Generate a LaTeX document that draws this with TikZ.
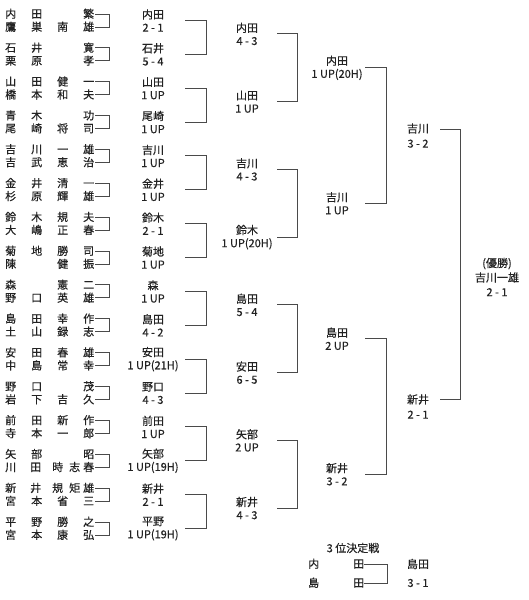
\documentclass[tikz,border=0pt]{standalone}
\usepackage{fontspec}
\setmainfont{Noto Sans CJK JP}[FakeBold=0.35]
\usetikzlibrary{calc}
\definecolor{txt}{HTML}{222222}
\definecolor{lnc}{HTML}{4A4A4A}
\newcommand\nmF[4]{\makebox[90pt][l]{\makebox[26pt][l]{#1}\makebox[26pt][l]{#2}\makebox[26pt][l]{#3}#4}}
\newcommand\nmV[5]{\makebox[90pt][l]{\makebox[25pt][l]{#1}\makebox[22pt][l]{#2}\makebox[17pt][l]{#3}\makebox[14pt][l]{#4}#5}}
\begin{document}
\begin{tikzpicture}[x=1pt,y=-1pt,
  every node/.style={text=txt, font=\fontsize{11}{13}\selectfont, inner sep=0pt},
  nm/.style={anchor=west, text height=9.4pt, text depth=1.6pt},
  lab/.style={align=center},
  ln/.style={draw=lnc, line width=1pt}]
\useasboundingbox[fill=white] (0,0) rectangle (529,600);

% first-round pairs
\foreach \k/\a/\b in {
 0/{\nmF{内}{田}{}{繁}}/{\nmF{鷹}{巣}{南}{雄}},
 1/{\nmF{石}{井}{}{寛}}/{\nmF{栗}{原}{}{孝}},
 2/{\nmF{山}{田}{健}{一}}/{\nmF{橋}{本}{和}{夫}},
 3/{\nmF{青}{木}{}{功}}/{\nmF{尾}{崎}{将}{司}},
 4/{\nmF{吉}{川}{一}{雄}}/{\nmF{吉}{武}{恵}{治}},
 5/{\nmF{金}{井}{清}{一}}/{\nmF{杉}{原}{輝}{雄}},
 6/{\nmF{鈴}{木}{規}{夫}}/{\nmF{大}{嶋}{正}{春}},
 7/{\nmF{菊}{地}{勝}{司}}/{\nmF{陳}{}{健}{振}},
 8/{\nmF{森}{}{憲}{二}}/{\nmF{野}{口}{英}{雄}},
 9/{\nmF{島}{田}{幸}{作}}/{\nmF{土}{山}{録}{志}},
 10/{\nmF{安}{田}{春}{雄}}/{\nmF{中}{島}{常}{幸}},
 11/{\nmF{野}{口}{}{茂}}/{\nmF{岩}{下}{吉}{久}},
 12/{\nmF{前}{田}{新}{作}}/{\nmF{寺}{本}{一}{郎}},
 13/{\nmF{矢}{部}{}{昭}}/{\nmV{川}{田}{時}{志}{春}},
 14/{\nmV{新}{井}{規}{矩}{雄}}/{\nmF{宮}{本}{省}{三}},
 15/{\nmF{平}{野}{勝}{之}}/{\nmF{宮}{本}{康}{弘}}}
{
  \node[nm] (a\k) at (5,{14+33.87*\k}) {\a};
  \node[nm] (b\k) at (5,{27+33.87*\k}) {\b};
  \draw[ln] (a\k.east) -- ++(14,0) |- (b\k.east);
}

% first-round results
\foreach \k/\t in {
 0/{内田\\2 - 1}, 1/{石井\\5 - 4}, 2/{山田\\1 UP}, 3/{尾崎\\1 UP},
 4/{吉川\\1 UP}, 5/{金井\\1 UP}, 6/{鈴木\\2 - 1}, 7/{菊地\\1 UP},
 8/{森\\1 UP}, 9/{島田\\4 - 2}, 10/{安田\\1 UP(21H)}, 11/{野口\\4 - 3},
 12/{前田\\1 UP}, 13/{矢部\\1 UP(19H)}, 14/{新井\\2 - 1}, 15/{平野\\1 UP(19H)}}
{
  \node[lab, minimum width=64pt] (r1\k) at (153,{20.5+33.87*\k}) {\t};
}
\foreach \i in {0,...,7}{
  \pgfmathtruncatemacro\u{2*\i}
  \pgfmathtruncatemacro\v{2*\i+1}
  \draw[ln] (r1\u.east) -- ++(21,0) |- (r1\v.east);
}

% second-round results
\foreach \j/\t in {
 0/{内田\\4 - 3}, 1/{山田\\1 UP}, 2/{吉川\\4 - 3}, 3/{鈴木\\1 UP(20H)},
 4/{島田\\5 - 4}, 5/{安田\\6 - 5}, 6/{矢部\\2 UP}, 7/{新井\\4 - 3}}
{
  \node[lab, minimum width=60pt] (r2\j) at (247,{17+33.87*(2*\j+0.5)}) {\t};
}
\foreach \i in {0,...,3}{
  \pgfmathtruncatemacro\u{2*\i}
  \pgfmathtruncatemacro\v{2*\i+1}
  \draw[ln] (r2\u.east) -- ++(20,0) |- (r2\v.east);
}

% third-round results
\foreach \i/\t in {0/{内田\\1 UP(20H)}, 1/{吉川\\1 UP}, 2/{島田\\2 UP}, 3/{新井\\3 - 2}}
{
  \node[lab, minimum width=56pt] (r3\i) at (337,{17+33.87*(4*\i+1.5)}) {\t};
}
\foreach \i in {0,1}{
  \pgfmathtruncatemacro\u{2*\i}
  \pgfmathtruncatemacro\v{2*\i+1}
  \draw[ln] (r3\u.east) -- ++(21,0) |- (r3\v.east);
}

% semi-final results
\foreach \h/\t in {0/{吉川\\[2pt]3 - 2}, 1/{新井\\[2pt]2 - 1}}
{
  \node[lab, minimum width=44pt] (r4\h) at (418,{17+33.87*(8*\h+3.5)}) {\t};
}
\coordinate (f0) at ($(r40.east)+(0,-6)$);
\coordinate (f1) at ($(r41.east)+(0,-7)$);
\draw[ln] (f0) -- ++(20,0) |- (f1);

% final
\node[lab] (fin) at (497,277) {(優勝)\\[1.5pt]吉川一雄\\[1.5pt]2 - 1};

% third place match
\node (tt) at (353,548) {3 位決定戦};
\node[nm] (ta) at (308,564) {\makebox[56pt][l]{\makebox[45pt][l]{内}田}};
\node[nm] (tb) at (308,583) {\makebox[56pt][l]{\makebox[45pt][l]{島}田}};
\draw[ln] (ta.east) -- ++(23,0) |- (tb.east);
\node (tw) at (418,564) {島田};
\node (ts) at (418,583) {3 - 1};
\end{tikzpicture}
\end{document}
